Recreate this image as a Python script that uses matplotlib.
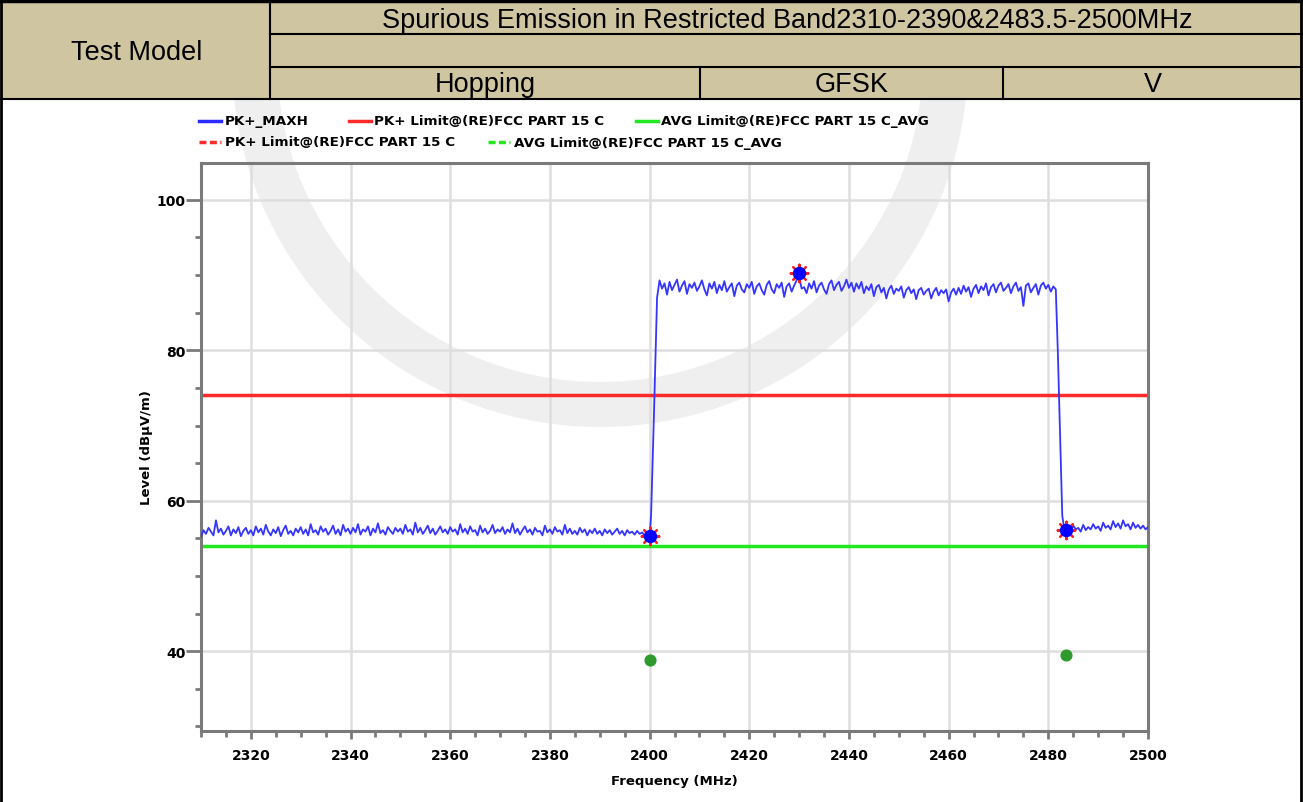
import numpy as np
import matplotlib.pyplot as plt
import matplotlib.transforms as mtransforms
from matplotlib.lines import Line2D
from matplotlib.patches import Rectangle, Annulus
from matplotlib.ticker import MultipleLocator

# ---- header table text ----
title_text = "Spurious Emission in Restricted Band2310-2390&2483.5-2500MHz"
row_label = "Test Model"
mode_cells = ["Hopping", "GFSK", "V"]

# ---- PK+_MAXH trace (0.5 MHz steps) ----
low_freq = np.arange(2310.0, 2400.5, 0.5)
low_level = [
    55.2, 56.1, 55.6, 56.4, 55.9, 55.4, 57.4, 55.8, 56.3, 55.5, 56.0, 56.6, 55.4, 56.2, 55.7, 56.5, 55.3, 56.0, 56.4, 55.6,
    56.1, 55.4, 56.6, 55.8, 56.3, 55.5, 56.8, 55.9, 55.4, 56.2, 55.7, 56.5, 55.3, 56.1, 56.7, 55.6, 56.0, 55.4, 56.3, 55.8,
    56.5, 55.6, 56.2, 55.4, 56.9, 55.8, 56.1, 55.5, 56.6, 55.9, 56.3, 55.5, 56.0, 56.7, 55.6, 56.2, 55.4, 56.8, 55.9, 56.3,
    55.6, 56.4, 55.8, 56.9, 55.5, 56.2, 55.9, 56.6, 55.4, 56.3, 55.8, 57.0, 55.7, 56.1, 55.5, 56.5, 56.0, 55.6, 56.4, 55.9,
    56.3, 55.6, 56.8, 55.9, 56.2, 55.5, 57.1, 55.8, 56.4, 55.6, 56.1, 56.7, 55.7, 56.3, 55.5, 56.0, 56.6, 55.8, 56.2, 55.6,
    56.5, 55.9, 56.2, 55.5, 56.9, 55.8, 56.3, 55.6, 56.6, 55.9, 56.1, 55.4, 56.7, 55.8, 56.3, 55.6, 56.0, 56.8, 55.7, 56.2,
    55.9, 56.5, 55.6, 56.2, 55.8, 57.0, 55.7, 56.3, 55.5, 56.1, 56.6, 55.8, 56.2, 55.5, 56.4, 55.9, 56.0, 55.4, 56.7, 55.8,
    56.2, 55.6, 56.5, 55.9, 56.1, 55.5, 56.8, 55.7, 56.3, 55.6, 56.0, 55.5, 56.4, 55.8, 56.2, 55.4, 56.1, 55.7, 56.3, 55.6,
    56.0, 55.4, 56.2, 55.7, 56.1, 55.5, 55.9, 56.3, 55.6, 56.0, 55.4, 56.1, 55.7, 55.9, 55.5, 56.0, 55.6, 55.8, 55.4, 55.7,
    55.3,
]
rise_freq = [2400.3, 2400.9, 2401.5]
rise_level = [58.0, 72.0, 87.0]
high_freq = np.arange(2402.0, 2482.0, 0.5)
high_level = [
    89.3, 88.2, 88.9, 87.4, 89.1, 88.0, 88.7, 89.4, 87.8, 88.6, 89.2, 87.5, 88.8, 88.3, 89.0, 87.9, 88.5, 89.3, 88.1, 87.3,
    88.9, 88.2, 89.1, 87.6, 88.7, 88.0, 89.2, 87.8, 88.4, 88.9, 87.2, 88.6, 89.0, 88.1, 87.7, 88.8, 88.3, 89.1, 87.5, 88.5,
    88.9, 88.0, 87.4, 88.7, 89.2, 88.1, 87.6, 88.8, 88.3, 89.0, 87.1, 88.5, 88.9, 87.8, 88.6, 89.3, 89.8, 88.2, 88.4, 87.6,
    88.9, 88.2, 89.2, 87.7, 88.6, 89.0, 88.1, 87.5, 88.8, 89.3, 88.0, 88.7, 89.1, 87.9, 88.5, 89.4, 88.3, 89.0, 87.8, 88.9,
    88.2, 89.1, 87.6, 88.5, 88.0, 88.8, 87.2, 88.4, 88.7, 87.7, 88.3, 86.9, 88.1, 88.6, 87.5, 88.2, 87.9, 88.5, 87.0, 88.0,
    88.4, 87.6, 88.1, 86.8, 88.0, 88.3, 87.4, 87.9, 88.2, 86.9, 87.8, 88.3, 87.3, 88.0, 87.6, 88.1, 86.5, 87.7, 88.2, 87.4,
    88.3, 87.5, 88.6, 87.8, 88.4, 87.1, 88.2, 88.7, 87.6, 88.5, 88.0, 88.9, 87.3, 88.4, 88.8, 87.7, 88.6, 89.0, 87.9, 88.3,
    88.8, 87.6, 88.5, 89.0, 87.9, 88.4, 85.9, 88.6, 88.9, 87.7, 88.3, 88.8, 87.4, 88.6, 89.0, 88.2, 88.7, 87.8, 88.5, 88.1,
]
fall_freq = [2481.9, 2482.3, 2482.8, 2483.2]
fall_level = [80.0, 70.0, 58.0, 56.3]
tail_freq = np.arange(2484.0, 2500.5, 0.5)
tail_level = [
    56.5, 56.0, 56.7, 56.2, 56.4, 55.9, 56.8, 56.1, 56.5, 56.2, 56.9, 56.3, 56.6, 56.0, 57.1, 56.4, 56.7,
    56.2, 57.3, 56.5, 57.0, 56.3, 57.4, 56.6, 56.9, 56.2, 57.1, 56.4, 56.8, 56.3, 56.7, 56.2, 56.5,
]

# ---- limits and markers ----
pk_limit = 74.0
avg_limit = 54.0
peak_freq = [2400.0, 2430.0, 2483.5]
peak_level = [55.3, 90.3, 56.1]
avg_freq = [2400.0, 2483.5]
avg_level = [38.9, 39.5]

legend_rows = [
    [("PK+_MAXH", "#2b2bff", "-"),
     ("PK+ Limit@(RE)FCC PART 15 C", "#ff2a2a", "-"),
     ("AVG Limit@(RE)FCC PART 15 C_AVG", "#22e822", "-")],
    [("PK+ Limit@(RE)FCC PART 15 C", "#ff2a2a", "--"),
     ("AVG Limit@(RE)FCC PART 15 C_AVG", "#22e822", "--")],
]

W, H = 1303, 803
TAN = "#cfc5a0"


def fx(x):
    return x / W


def fy(y):
    return 1 - y / H


fig = plt.figure(figsize=(W / 100, H / 100), dpi=100)
# pixel coords, origin top-left
px = mtransforms.Affine2D().scale(1 / W, -1 / H).translate(0, 1) + fig.transFigure

# faint watermark ring behind everything
fig.patches.append(Annulus((600, 60), 368, 45, transform=px, facecolor="#efefef",
                           edgecolor="none", zorder=-2))

# ---- header table ----
fig.patches.append(Rectangle((0, fy(100)), 1, fy(0) - fy(100), transform=fig.transFigure,
                             facecolor=TAN, edgecolor="none", zorder=0))


def hline(y, x0, x1, lw=1.5):
    fig.add_artist(Line2D([fx(x0), fx(x1)], [fy(y), fy(y)], color="black", lw=lw,
                          transform=fig.transFigure))


def vline(x, y0, y1, lw=1.5):
    fig.add_artist(Line2D([fx(x), fx(x)], [fy(y0), fy(y1)], color="black", lw=lw,
                          transform=fig.transFigure))


hline(1.5, 0, W, lw=2.5)
hline(35, 270, W)
hline(68, 270, W)
hline(100, 0, W)
vline(1, 0, H, lw=2)
vline(1301, 0, H, lw=2)
vline(270, 2, 100)
vline(700, 68, 100)
vline(1003, 68, 100)

hfont = dict(family="Liberation Sans", fontsize=19.5, ha="center", va="center")
fig.text(fx(787), fy(21), title_text, **hfont)
fig.text(fx(137), fy(53), row_label, **hfont)
for txt, xc in zip(mode_cells, [485, 852, 1153]):
    fig.text(fx(xc), fy(85), txt, **hfont)

# ---- legend (two rows, flowing) ----
leg_handles = [[199, 349, 636], [199, 488]]
leg_text = [[225, 374, 661], [225, 514]]
leg_y = [122, 143]
for row, hs, ts, y in zip(legend_rows, leg_handles, leg_text, leg_y):
    for (lab, col, ls), x0, xt in zip(row, hs, ts):
        fig.add_artist(Line2D([fx(x0), fx(x0 + 22)], [fy(y), fy(y)], color=col, lw=2.5,
                              ls=ls, dashes=(2, 1) if ls == "--" else (None, None),
                              transform=fig.transFigure))
        fig.text(fx(xt), fy(y), lab, fontsize=9.7, fontweight="bold",
                 family="DejaVu Sans", va="center", ha="left")

# ---- plot ----
ax = fig.add_axes([fx(201), fy(732), fx(1148) - fx(201), fy(164) - fy(732)])
ax.patch.set_alpha(0)

freq = np.concatenate([low_freq, rise_freq, high_freq, fall_freq, tail_freq])
level = np.concatenate([low_level, rise_level, high_level, fall_level, tail_level])

ax.axhline(pk_limit, color="#ff2a2a", lw=2.5, zorder=2)
ax.axhline(avg_limit, color="#22e822", lw=2.5, zorder=2)
ax.plot(freq, level, color="#3535ff", lw=1.3, zorder=3)
ax.scatter(peak_freq, peak_level, marker=(8, 2, 0), s=160, color="#ff2020", lw=1.6, zorder=4)
ax.scatter(peak_freq, peak_level, marker="o", s=75, color="#0000ff", zorder=5)
ax.scatter(avg_freq, avg_level, marker="o", s=60, color="#2e9a2e", zorder=5)

ax.set_xlim(2310, 2500)
ax.set_ylim(29.4, 104.9)
ax.xaxis.set_major_locator(MultipleLocator(20))
ax.xaxis.set_minor_locator(MultipleLocator(5))
ax.yaxis.set_major_locator(MultipleLocator(20))
ax.yaxis.set_minor_locator(MultipleLocator(5))
ax.grid(True, which="major", color="#dedede", lw=1.8, zorder=0)
ax.set_axisbelow(True)

for sp in ax.spines.values():
    sp.set_color("#7a7a7a")
    sp.set_linewidth(2.2)
ax.tick_params(axis="y", which="major", length=10.5, width=2, color="#7a7a7a", labelsize=10, pad=0.5)
ax.tick_params(axis="y", which="minor", length=4, width=2, color="#7a7a7a")
ax.tick_params(axis="x", which="major", length=6, width=2, color="#7a7a7a", labelsize=10, pad=6)
ax.tick_params(axis="x", which="minor", length=4, width=2, color="#7a7a7a")
for lbl in ax.get_xticklabels() + ax.get_yticklabels():
    lbl.set_fontweight("bold")

ax.set_xlabel("Frequency (MHz)", fontsize=9.5, fontweight="bold", labelpad=9)
ax.set_ylabel("Level (dBµV/m)", fontsize=9.5, fontweight="bold", labelpad=3)

fig.savefig("out.png", dpi=100)
